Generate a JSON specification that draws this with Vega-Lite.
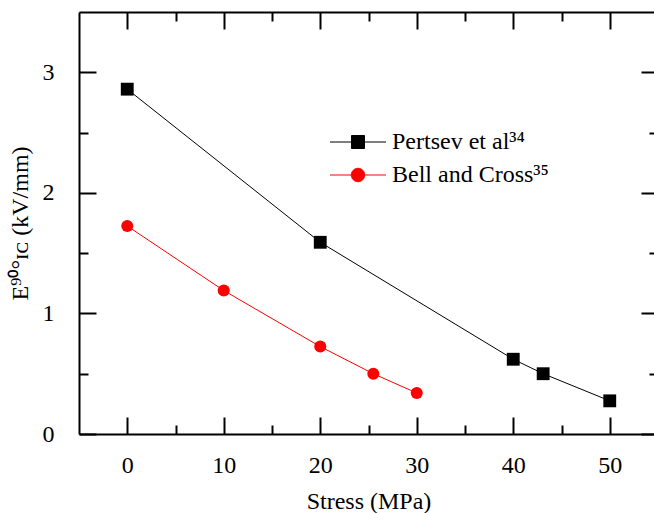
{
  "$schema": "https://vega.github.io/schema/vega-lite/v6.json",
  "autosize": "none",
  "width": 579,
  "height": 422,
  "padding": {"left": 79, "top": 12, "right": 0, "bottom": 79},
  "background": "white",
  "config": {
    "view": {"stroke": null},
    "font": "Liberation Serif",
    "axis": {
      "labelFont": "Liberation Serif",
      "titleFont": "Liberation Serif",
      "labelFontSize": 24,
      "titleFontSize": 24,
      "titleFontWeight": "normal",
      "labelColor": "black",
      "titleColor": "black",
      "domainColor": "black",
      "tickColor": "black",
      "domainWidth": 2,
      "tickWidth": 2,
      "grid": false
    },
    "legend": {
      "labelFont": "Liberation Serif",
      "labelFontSize": 24,
      "labelColor": "black"
    }
  },
  "data": {
    "values": [
      {"series": "Pertsev et al³⁴", "stress": 0, "E": 2.86},
      {"series": "Pertsev et al³⁴", "stress": 20, "E": 1.59},
      {"series": "Pertsev et al³⁴", "stress": 40, "E": 0.62},
      {"series": "Pertsev et al³⁴", "stress": 43.1, "E": 0.50},
      {"series": "Pertsev et al³⁴", "stress": 50, "E": 0.275},
      {"series": "Bell and Cross³⁵", "stress": 0, "E": 1.725},
      {"series": "Bell and Cross³⁵", "stress": 10, "E": 1.19},
      {"series": "Bell and Cross³⁵", "stress": 20, "E": 0.725},
      {"series": "Bell and Cross³⁵", "stress": 25.5, "E": 0.50},
      {"series": "Bell and Cross³⁵", "stress": 30, "E": 0.34}
    ]
  },
  "resolve": {"axis": {"x": "independent", "y": "independent"}},
  "layer": [
    {
      "mark": {"type": "line", "strokeWidth": 1},
      "encoding": {
        "x": {
          "field": "stress", "type": "quantitative",
          "scale": {"domain": [-5, 55], "nice": false, "zero": false},
          "axis": {
            "orient": "bottom",
            "title": "Stress (MPa)",
            "format": "~g",
            "values": [0, 5, 10, 15, 20, 25, 30, 35, 40, 45, 50],
            "labelExpr": "datum.value % 10 === 0 ? datum.label : ''",
            "tickSize": {"condition": {"test": "datum.value % 10 === 0", "value": -17}, "value": -9},
            "labelPadding": 36,
            "titlePadding": 12
          }
        },
        "y": {
          "field": "E", "type": "quantitative",
          "scale": {"domain": [0, 3.5], "nice": false},
          "axis": {
            "orient": "left",
            "title": "E⁹⁰°ɪᴄ (kV/mm)",
            "format": "~g",
            "values": [0, 0.5, 1, 1.5, 2, 2.5, 3],
            "labelExpr": "datum.value % 1 === 0 ? datum.label : ''",
            "tickSize": {"condition": {"test": "datum.value % 1 === 0", "value": -17}, "value": -9},
            "labelPadding": 42,
            "titlePadding": 10
          }
        },
        "color": {
          "field": "series", "type": "nominal",
          "scale": {"domain": ["Pertsev et al³⁴", "Bell and Cross³⁵"], "range": ["black", "#ff0000"]},
          "legend": {
            "title": null,
            "orient": "none",
            "legendX": 267,
            "legendY": 118,
            "padding": 0,
            "symbolSize": 196,
            "labelOffset": 22,
            "rowPadding": 9,
            "encode": {
              "symbols": {
                "update": {
                  "shape": {"signal": "datum.value === 'Pertsev et al³⁴' ? 'M-4,0H-0.93M0.93,0H4M-0.93,-0.93H0.93V0.93H-0.93Z' : 'M-4,0H-0.96M0.96,0H4M0.96,0A0.96,0.96 0 1,1 -0.96,0A0.96,0.96 0 1,1 0.96,0Z'"},
                  "size": {"value": 196},
                  "fill": {"scale": "color", "field": "value"},
                  "stroke": {"scale": "color", "field": "value"},
                  "strokeWidth": {"value": 1},
                  "opacity": {"value": 1}
                }
              }
            }
          }
        }
      }
    },
    {
      "transform": [{"filter": "datum.series === 'Pertsev et al³⁴'"}],
      "mark": {"type": "point", "filled": true, "opacity": 1, "size": 165, "shape": "square"},
      "encoding": {
        "x": {
          "field": "stress", "type": "quantitative",
          "axis": {
            "orient": "top",
            "title": null,
            "labels": false,
            "values": [0, 5, 10, 15, 20, 25, 30, 35, 40, 45, 50],
            "tickSize": {"condition": {"test": "datum.value % 10 === 0", "value": -17}, "value": -9}
          }
        },
        "y": {
          "field": "E", "type": "quantitative",
          "axis": {
            "orient": "right",
            "title": null,
            "labels": false,
            "values": [0, 0.5, 1, 1.5, 2, 2.5, 3],
            "tickSize": {"condition": {"test": "datum.value % 1 === 0", "value": -17}, "value": -9}
          }
        },
        "color": {
          "field": "series", "type": "nominal",
          "legend": {
            "title": null,
            "orient": "none",
            "legendX": 267,
            "legendY": 118,
            "padding": 0,
            "symbolSize": 196,
            "labelOffset": 22,
            "rowPadding": 9,
            "encode": {
              "symbols": {
                "update": {
                  "shape": {"signal": "datum.value === 'Pertsev et al³⁴' ? 'M-4,0H-0.93M0.93,0H4M-0.93,-0.93H0.93V0.93H-0.93Z' : 'M-4,0H-0.96M0.96,0H4M0.96,0A0.96,0.96 0 1,1 -0.96,0A0.96,0.96 0 1,1 0.96,0Z'"},
                  "size": {"value": 196},
                  "fill": {"scale": "color", "field": "value"},
                  "stroke": {"scale": "color", "field": "value"},
                  "strokeWidth": {"value": 1},
                  "opacity": {"value": 1}
                }
              }
            }
          }
        }
      }
    },
    {
      "transform": [{"filter": "datum.series === 'Bell and Cross³⁵'"}],
      "mark": {"type": "point", "filled": true, "opacity": 1, "size": 145, "shape": "circle"},
      "encoding": {
        "x": {"field": "stress", "type": "quantitative", "axis": null},
        "y": {"field": "E", "type": "quantitative", "axis": null},
        "color": {
          "field": "series", "type": "nominal",
          "legend": {
            "title": null,
            "orient": "none",
            "legendX": 267,
            "legendY": 118,
            "padding": 0,
            "symbolSize": 196,
            "labelOffset": 22,
            "rowPadding": 9,
            "encode": {
              "symbols": {
                "update": {
                  "shape": {"signal": "datum.value === 'Pertsev et al³⁴' ? 'M-4,0H-0.93M0.93,0H4M-0.93,-0.93H0.93V0.93H-0.93Z' : 'M-4,0H-0.96M0.96,0H4M0.96,0A0.96,0.96 0 1,1 -0.96,0A0.96,0.96 0 1,1 0.96,0Z'"},
                  "size": {"value": 196},
                  "fill": {"scale": "color", "field": "value"},
                  "stroke": {"scale": "color", "field": "value"},
                  "strokeWidth": {"value": 1},
                  "opacity": {"value": 1}
                }
              }
            }
          }
        }
      }
    }
  ]
}
